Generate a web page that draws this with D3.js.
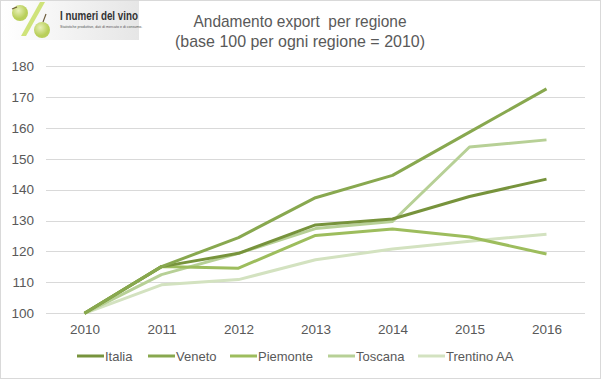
<!DOCTYPE html>
<html><head><meta charset="utf-8">
<script src="https://cdn.jsdelivr.net/npm/d3@7"></script>
<style>body{margin:0;background:#fff}svg{display:block}</style>
</head><body>
<svg id="c" width="601" height="379"></svg>
<script>
const years = ["2010","2011","2012","2013","2014","2015","2016"];
const seriesNames = ["Italia","Veneto","Piemonte","Toscana","Trentino AA"];
const italia   = [100, 115.1, 119.4, 128.6, 130.5, 137.8, 143.4];
const veneto   = [100, 115.1, 124.5, 137.4, 144.6, 158.6, 172.6];
const piemonte = [100, 115.1, 114.6, 125.2, 127.3, 124.7, 119.2];
const toscana  = [100, 112.5, 119.4, 127.4, 129.7, 153.8, 156.1];
const trentino = [100, 109.2, 110.9, 117.3, 120.8, 123.3, 125.6];
const yTicks = [100,110,120,130,140,150,160,170,180];
const colors = ["#77933c","#88a84f","#9dbd5d","#b7d096","#d3e2c0"];
const data = [italia, veneto, piemonte, toscana, trentino];

const svg = d3.select("#c");
const font = "'Liberation Sans', Arial, sans-serif";

// border
svg.append("rect").attr("x",0.5).attr("y",0.5).attr("width",600).attr("height",378)
  .attr("fill","#fff").attr("stroke","#d9d9d9");

// logo
const defs = svg.append("defs");
const lg = defs.append("linearGradient").attr("id","lg").attr("x1","0").attr("x2","1");
lg.append("stop").attr("offset","0").attr("stop-color","#fff");
lg.append("stop").attr("offset","1").attr("stop-color","#e6e6e6");
svg.append("rect").attr("x",1).attr("y",1).attr("width",138).attr("height",39).attr("fill","url(#lg)");
const rg = defs.append("radialGradient").attr("id","rg").attr("cx","0.4").attr("cy","0.35");
rg.append("stop").attr("offset","0").attr("stop-color","#e8f0b8");
rg.append("stop").attr("offset","1").attr("stop-color","#b9cf5a");
svg.append("path").attr("d","M40,2 L45,2 L26,36 L21,36 Z").attr("fill","#cfe37a");
svg.append("circle").attr("cx",20).attr("cy",13).attr("r",8).attr("fill","url(#rg)");
svg.append("circle").attr("cx",42).attr("cy",30).attr("r",8).attr("fill","url(#rg)");
svg.append("path").attr("d","M12,9 L17,7").attr("stroke","#6b5a3a").attr("stroke-width",1.2);
svg.append("path").attr("d","M43,22 L46,14").attr("stroke","#6b5a3a").attr("stroke-width",1.2);
svg.append("text").attr("x",60).attr("y",20).attr("font-family",font)
  .attr("font-size",13).attr("font-weight","bold").attr("fill","#333")
  .attr("textLength",78).attr("lengthAdjust","spacingAndGlyphs").text("I numeri del vino");
svg.append("text").attr("x",60).attr("y",28).attr("font-family",font)
  .attr("font-size",3.6).attr("fill","#555").text("Statistiche produttive, dati di mercato e di consumo.");

// title
const title = svg.append("text").attr("text-anchor","middle").attr("fill","#595959")
  .attr("font-family",font).attr("font-size",17);
title.append("tspan").attr("x",300).attr("y",27).attr("xml:space","preserve")
  .attr("textLength",213).attr("lengthAdjust","spacingAndGlyphs").text("Andamento export  per regione");
title.append("tspan").attr("x",300).attr("y",47)
  .attr("textLength",250).attr("lengthAdjust","spacingAndGlyphs").text("(base 100 per ogni regione = 2010)");

// scales
const x = d3.scalePoint().domain(years).range([84.5,546.5]);
const y = d3.scaleLinear().domain([100,180]).range([313.3,66]);

// gridlines
svg.append("g").selectAll("line").data(yTicks).join("line")
  .attr("x1",46).attr("x2",585).attr("y1",d=>Math.round(y(d))+0.5).attr("y2",d=>Math.round(y(d))+0.5)
  .attr("stroke","#d9d9d9").attr("stroke-width",1);

// y axis labels
const yAxis = d3.axisLeft(y).tickValues(yTicks).tickSize(0).tickPadding(0);
const gy = svg.append("g").attr("transform","translate(34,0)").call(yAxis);
gy.select(".domain").remove();
gy.selectAll("text").attr("font-family",font).attr("font-size",13.5).attr("fill","#595959");

// x axis labels
const xAxis = d3.axisBottom(x).tickSize(0).tickPadding(0);
const gx = svg.append("g").attr("transform","translate(0,324)").call(xAxis);
gx.select(".domain").remove();
gx.selectAll("text").attr("font-family",font).attr("font-size",13.5).attr("fill","#595959");

// lines
const line = d3.line().x((d,i)=>x(years[i])).y(d=>y(d));
const order = [4,3,2,0,1];
order.forEach(k=>{
  svg.append("path").datum(data[k]).attr("d",line).attr("fill","none")
    .attr("stroke",colors[k]).attr("stroke-width",3).attr("stroke-linejoin","round");
});

// legend
const legX = [77,148,230,328,418];
const lgd = svg.append("g");
seriesNames.forEach((n,i)=>{
  lgd.append("line").attr("x1",legX[i]).attr("x2",legX[i]+27).attr("y1",356).attr("y2",356)
    .attr("stroke",colors[i]).attr("stroke-width",3);
  lgd.append("text").attr("x",legX[i]+28).attr("y",360.5).attr("font-family",font)
    .attr("font-size",13).attr("fill","#595959").text(n);
});
</script>
</body></html>
